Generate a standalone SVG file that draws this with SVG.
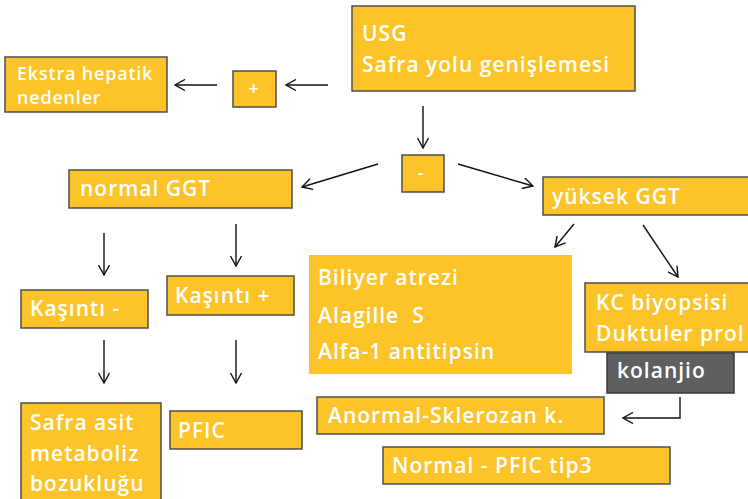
<svg xmlns="http://www.w3.org/2000/svg" width="748" height="499" viewBox="0 0 748 499">
<style>
.b{fill:#FDC42A;stroke:#4d4d4d;stroke-width:1.5}
.nb{fill:#FDC42A;stroke:none}
.g{fill:#5E6060;stroke:#3a3a3a;stroke-width:1.5}
text{font-family:"Open Sans","Noto Sans",sans-serif;font-weight:600;fill:#ffffff;font-size:21px;letter-spacing:1px;white-space:pre}
.s{font-size:18px;letter-spacing:0.8px}
.c{stroke:#111;stroke-width:1.4;fill:none}
</style>
<defs>
<marker id="a" viewBox="0 0 12 12" refX="11" refY="6" markerWidth="12" markerHeight="12" markerUnits="userSpaceOnUse" orient="auto">
<path d="M1,0.5 L11,6 L1,11.5" fill="none" stroke="#111" stroke-width="1.4"/>
</marker>
</defs>
<g id="usg"><rect class="b" x="352" y="6" width="283" height="85"/><text x="362" y="41">USG</text><text x="362" y="72">Safra yolu genişlemesi</text></g>
<g id="ekstra"><rect class="b" x="5" y="57" width="162" height="55"/><text class="s" x="17" y="80">Ekstra hepatik</text><text class="s" x="17" y="104">nedenler</text></g>
<g id="plus"><rect class="b" x="233" y="71" width="43" height="36"/><text class="s" x="254" y="95" text-anchor="middle">+</text></g>
<g id="minus"><rect class="b" x="402" y="155" width="42" height="37"/><text class="s" x="421" y="179" text-anchor="middle">-</text></g>
<g id="normalggt"><rect class="b" x="69" y="170" width="223" height="38"/><text x="80" y="196">normal GGT</text></g>
<g id="yuksekggt"><rect class="b" x="543" y="177" width="210" height="38"/><text x="552" y="204">yüksek GGT</text></g>
<g id="kasinti-neg"><rect class="b" x="21" y="290" width="127" height="38"/><text x="30" y="316">Kaşıntı -</text></g>
<g id="kasinti-pos"><rect class="b" x="167" y="276" width="127" height="39"/><text x="175" y="303">Kaşıntı +</text></g>
<g id="safra"><rect class="b" x="21" y="403" width="140" height="100"/><text x="30" y="430">Safra asit</text><text x="30" y="461">metaboliz</text><text x="30" y="491">bozukluğu</text></g>
<g id="pfic"><rect class="b" x="170" y="411" width="132" height="38"/><text x="178" y="438">PFIC</text></g>
<g id="biliyer"><rect class="nb" x="309" y="255" width="263" height="119"/><text x="318" y="285">Biliyer atrezi</text><text x="318" y="323">Alagille  S</text><text x="318" y="359">Alfa-1 antitipsin</text></g>
<g id="kc"><rect class="b" x="585" y="283" width="168" height="69"/><text x="596" y="310">KC biyopsisi</text><text x="596" y="341">Duktuler prol</text></g>
<g id="kolanjio"><rect class="g" x="607" y="353" width="127" height="40"/><text x="617" y="378">kolanjio</text></g>
<g id="anormal"><rect class="b" x="317" y="397" width="287" height="37"/><text x="328" y="423">Anormal-Sklerozan k.</text></g>
<g id="normalpfic"><rect class="b" x="383" y="447" width="287" height="37"/><text x="392" y="473">Normal - PFIC tip3</text></g>
<g id="connectors">
<line class="c" x1="328" y1="85" x2="286" y2="85" marker-end="url(#a)"/>
<line class="c" x1="217" y1="85" x2="175" y2="85" marker-end="url(#a)"/>
<line class="c" x1="423" y1="106" x2="423" y2="148" marker-end="url(#a)"/>
<line class="c" x1="378" y1="164" x2="302" y2="187" marker-end="url(#a)"/>
<line class="c" x1="458" y1="164" x2="533" y2="186" marker-end="url(#a)"/>
<line class="c" x1="574" y1="224" x2="555" y2="247" marker-end="url(#a)"/>
<line class="c" x1="643" y1="225" x2="678" y2="277" marker-end="url(#a)"/>
<line class="c" x1="104" y1="233" x2="104" y2="275" marker-end="url(#a)"/>
<line class="c" x1="236" y1="224" x2="236" y2="266" marker-end="url(#a)"/>
<line class="c" x1="104" y1="340" x2="104" y2="383" marker-end="url(#a)"/>
<line class="c" x1="236" y1="340" x2="236" y2="383" marker-end="url(#a)"/>
<polyline class="c" points="680,397 680,418 623,418" marker-end="url(#a)"/>
</g>
</svg>
